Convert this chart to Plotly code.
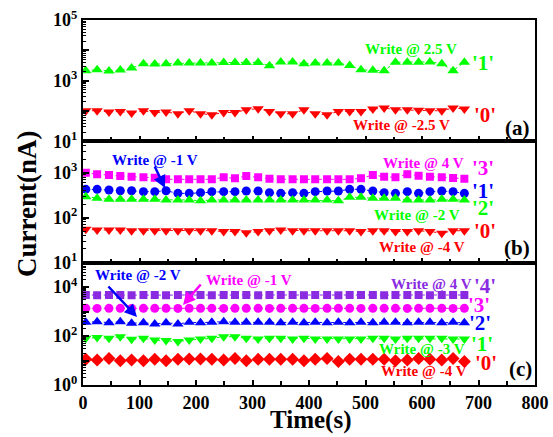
import plotly.graph_objects as go
from plotly.subplots import make_subplots

# ---------------- data ----------------
time_s = [5, 25, 46, 66, 86, 107, 127, 147, 168, 188, 208, 228, 249, 269, 289, 310, 330,
          350, 371, 391, 411, 432, 452, 472, 492, 513, 533, 553, 574, 594, 614, 635, 655, 675]

# panel (a)
a_state1 = [2140, 2290, 2100, 2250, 2600, 3620, 3520, 3620, 3840, 3840, 3840, 3840, 4000, 4000,
            4000, 4000, 3090, 4160, 4160, 3620, 3840, 3840, 3840, 3150, 2290, 2200, 2140, 4050,
            4050, 4050, 4160, 3620, 2140, 4050]
a_state0 = [102, 102, 92, 97, 85, 102, 89, 92, 81, 102, 81, 75, 89, 89, 110, 119, 97, 81, 81,
            110, 81, 75, 97, 97, 97, 116, 125, 110, 110, 105, 102, 102, 125, 116]

# panel (b)
b_state3 = [1000, 920, 889, 845, 815, 789, 774, 713, 713, 713, 713, 713, 789, 750, 845, 789, 730,
            713, 713, 713, 713, 713, 713, 713, 750, 889, 815, 789, 920, 857, 815, 789, 762, 736]
b_state1 = [427, 427, 412, 397, 397, 378, 378, 397, 347, 347, 359, 378, 378, 378, 391, 391, 359,
            347, 359, 347, 378, 391, 391, 427, 427, 391, 359, 347, 378, 347, 378, 391, 378, 347]
b_state2 = [292, 269, 255, 255, 255, 255, 255, 247, 247, 247, 238, 247, 247, 247, 247, 247, 247,
            247, 247, 247, 247, 247, 238, 283, 283, 269, 269, 269, 247, 247, 247, 255, 255, 247]
b_state0 = [55, 53, 53, 53, 51, 51, 51, 51, 51, 51, 51, 51, 49, 49, 46, 49, 51, 53, 51, 51, 51,
            51, 51, 51, 49, 51, 51, 49, 49, 51, 49, 45, 51, 51]

# panel (c)
c_state4 = [4700, 4650, 4700, 4700, 4650, 4700, 4700, 4650, 4700, 4700, 4700, 4650, 4700, 4700,
            4700, 4650, 4700, 4700, 4700, 4650, 4700, 4700, 4650, 4700, 4700, 4700, 4650, 4700,
            4700, 4700, 4650, 4700, 4700, 4700]
c_state3 = [1350, 1340, 1350, 1350, 1340, 1350, 1350, 1350, 1340, 1350, 1350, 1350, 1340, 1350,
            1350, 1350, 1340, 1350, 1350, 1350, 1340, 1350, 1350, 1350, 1340, 1350, 1350, 1350,
            1340, 1350, 1350, 1350, 1340, 1350]
c_state2 = [361, 384, 350, 384, 329, 350, 309, 350, 309, 361, 350, 361, 384, 361, 361, 361, 361,
            350, 361, 350, 361, 350, 361, 350, 361, 350, 361, 361, 350, 361, 361, 350, 361, 350]
c_state1 = [80, 86, 80, 94, 73, 80, 69, 65, 59, 69, 75, 80, 94, 94, 80, 75, 80, 80, 75, 80, 75,
            75, 75, 75, 75, 80, 80, 75, 80, 80, 80, 80, 75, 75]
c_state0 = [11.2, 10.5, 12.2, 9.8, 10.5, 9.8, 11.2, 9.8, 11.2, 11.5, 11.5, 11.2, 10.5, 12.2, 9.8,
            11.2, 11.2, 11.2, 11.2, 9.8, 11.2, 12.2, 9.0, 11.2, 11.2, 11.2, 11.2, 9.8, 10.5, 12.2,
            11.2, 10.5, 12.2, 9.0]

x_ticks = [0, 100, 200, 300, 400, 500, 600, 700, 800]

GREEN = "#00ff00"
RED = "#ff0000"
BLUE = "#0000ff"
MAG = "#ff00ff"
PURP = "#8a2be2"
FONT = "Liberation Serif"

fig = make_subplots(rows=3, cols=1, shared_xaxes=True, vertical_spacing=0)


def add(row, y, color, symbol, size):
    fig.add_trace(go.Scatter(x=time_s, y=y, mode="lines+markers",
                             line=dict(color=color, width=1, dash="dot"),
                             marker=dict(color=color, symbol=symbol, size=size),
                             showlegend=False), row=row, col=1)


add(1, a_state1, GREEN, "triangle-up", 10)
add(1, a_state0, RED, "triangle-down", 10)
add(2, b_state3, MAG, "square", 8)
add(2, b_state1, BLUE, "circle", 9)
add(2, b_state2, GREEN, "triangle-up", 10)
add(2, b_state0, RED, "triangle-down", 10)
add(3, c_state4, PURP, "square", 8)
add(3, c_state3, MAG, "circle", 9)
add(3, c_state2, BLUE, "triangle-up", 10)
add(3, c_state1, GREEN, "triangle-down", 10)
add(3, c_state0, RED, "diamond", 10)

W, H = 553, 437
# plot area in page pixels
L, R, T, B = 83, 535, 20, 385
ph = B - T

doms = [[(B - 141.3) / ph, 1.0], [(B - 262.5) / ph, (B - 141.3) / ph], [0.0, (B - 262.5) / ph]]
yranges = [[1, 5], [1, 3.7], [0, 5]]
ylabels = [
    {1: "10<sup>1</sup>", 3: "10<sup>3</sup>", 5: "10<sup>5</sup>"},
    {1: "10<sup>1</sup>", 2: "10<sup>2</sup>", 3: "10<sup>3</sup>"},
    {0: "10<sup>0</sup>", 2: "10<sup>2</sup>", 4: "10<sup>4</sup>"},
]
tickfont = dict(family=FONT, size=18, color="black", weight="bold")

for i in range(3):
    lo, hi = yranges[i]
    decades = list(range(int(lo), int(hi) + 1))
    tv = [10 ** d for d in decades]
    tt = [ylabels[i].get(d, " ") for d in decades]
    minor_vals = [m * 10 ** d for d in range(int(lo), int(hi) + 1) for m in range(2, 10)]
    yname = "yaxis" if i == 0 else f"yaxis{i + 1}"
    fig.layout[yname].update(
        type="log", range=[lo, hi], domain=doms[i], automargin=False,
        ticklabeloverflow="allow",
        tickmode="array", tickvals=tv, ticktext=tt,
        ticks="inside", ticklen=6, tickwidth=1.5, tickcolor="black",
        minor=dict(tickmode="array", tickvals=minor_vals, ticks="inside", ticklen=3,
                   tickwidth=1, tickcolor="black", showgrid=False),
        showline=True, linecolor="black", linewidth=2, mirror=True,
        showgrid=False, zeroline=False, tickfont=tickfont,
    )
    xname = "xaxis" if i == 0 else f"xaxis{i + 1}"
    fig.layout[xname].update(
        range=[0, 800], tickmode="array", tickvals=x_ticks, automargin=False,
        ticklabeloverflow="allow",
        ticks="inside", ticklen=5, tickwidth=1.5, tickcolor="black",
        minor=dict(dtick=50, tick0=0, ticks="inside", ticklen=4, tickwidth=1.5,
                   tickcolor="black", showgrid=False),
        showline=True, linecolor="black", linewidth=2, mirror=True,
        showgrid=False, zeroline=False, tickfont=tickfont,
    )


def PX(x):
    return (x - L) / (R - L)


def PY(y):
    return (B - y) / (B - T)


ann = []


def text(s, x, y, color, size, **kw):
    ann.append(dict(text=s, x=PX(x), y=PY(y), xref="paper", yref="paper",
                    showarrow=False, xanchor="center", yanchor="middle",
                    font=dict(family=FONT, size=size, color=color, weight="bold"), **kw))


def arrow(x0, y0, x1, y1, color):
    ann.append(dict(text="", x=PX(x1), y=PY(y1), xref="paper", yref="paper",
                    ax=x0 - x1, ay=y0 - y1, axref="pixel", ayref="pixel",
                    showarrow=True, arrowhead=2, arrowsize=1, arrowwidth=2.5,
                    arrowcolor=color, standoff=0))


WS, LS = 15, 21
# panel (a)
text("Write @ 2.5 V", 411, 49, GREEN, WS)
text("Write @ -2.5 V", 401, 125, RED, WS)
text("'1'", 483, 63, GREEN, LS)
text("'0'", 485, 115, RED, LS)
text("(a)", 517, 128, "black", LS)
# panel (b)
text("Write @ -1 V", 155, 160, BLUE, WS)
arrow(154, 165, 165, 188, BLUE)
text("Write @ 4 V", 423, 163, MAG, WS)
text("'3'", 483, 168, MAG, LS)
text("'1'", 483, 191, BLUE, LS)
text("'2'", 483, 208, GREEN, LS)
text("Write @ -2 V", 417, 215, GREEN, WS)
text("'0'", 485, 231, RED, LS)
text("Write @ -4 V", 422, 247, RED, WS)
text("(b)", 517, 248, "black", LS)
# panel (c)
text("Write @ -2 V", 138, 275, BLUE, WS)
arrow(107, 285, 137, 317, BLUE)
text("Write @ -1 V", 249, 280, MAG, WS)
arrow(202, 283, 183, 305, MAG)
text("Write @ 4 V", 431, 284, PURP, WS)
text("'4'", 485, 286, PURP, LS)
text("'3'", 479, 305, MAG, LS)
text("'2'", 480, 323, BLUE, LS)
text("'1'", 482, 344, GREEN, LS)
text("Write @ -3 V", 422, 349, GREEN, WS)
text("'0'", 486, 363, RED, LS)
text("Write @ -4 V", 424, 371, RED, WS)
text("(c)", 520, 369, "black", LS)
# axis titles
text("Time(s)", 310, 420, "black", 25)
text("Current(nA)", 27, 204, "black", 27, textangle=-90)

fig.update_layout(
    width=W, height=H, autosize=False,
    margin=dict(l=L, r=W - R, t=T, b=H - B),
    paper_bgcolor="white", plot_bgcolor="white",
    font=dict(family=FONT, color="black"),
    annotations=ann, showlegend=False,
)

fig.write_html("out.html", config={"displayModeBar": False},
               post_script="document.body.style.margin='0';document.body.style.overflow='hidden';")
